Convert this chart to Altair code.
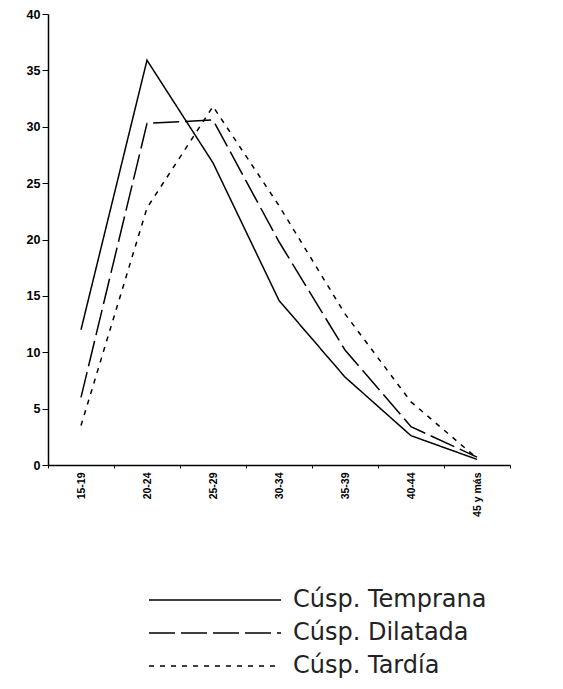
import altair as alt
import pandas as pd

ages = ["15-19", "20-24", "25-29", "30-34", "35-39", "40-44", "45 y más"]
series_names = ["Cúsp. Temprana", "Cúsp. Dilatada", "Cúsp. Tardía"]
temprana = [12.0, 35.9, 26.8, 14.6, 7.8, 2.6, 0.5]
dilatada = [6.0, 30.3, 30.6, 19.8, 10.2, 3.4, 0.7]
tardia = [3.5, 22.8, 31.8, 23.0, 13.4, 5.6, 0.6]
y_ticks = [0, 5, 10, 15, 20, 25, 30, 35, 40]

rows = []
for name, vals in zip(series_names, [temprana, dilatada, tardia]):
    for a, v in zip(ages, vals):
        rows.append({"edad": a, "valor": v, "serie": name})
df = pd.DataFrame(rows)

chart = (
    alt.Chart(df)
    .mark_line(color="black", strokeWidth=1.5)
    .encode(
        x=alt.X(
            "edad:N",
            sort=ages,
            bandPosition=0.5,
            scale=alt.Scale(type="band", paddingInner=0, paddingOuter=0),
            axis=alt.Axis(
                title=None,
                labelAngle=270,
                labelFont="Liberation Sans",
                labelFontSize=10.5,
                labelFontWeight="bold",
                labelColor="black",
                tickBand="extent",
                tickSize=3,
                tickColor="black",
                domainColor="black",
                domainWidth=1.5,
                labelPadding=4,
                grid=False,
            ),
        ),
        y=alt.Y(
            "valor:Q",
            scale=alt.Scale(domain=[0, 40], nice=False),
            axis=alt.Axis(
                title=None,
                values=y_ticks,
                labelFont="Liberation Sans",
                labelFontSize=12.5,
                labelFontWeight="bold",
                labelColor="black",
                tickSize=6,
                tickColor="black",
                domainColor="black",
                domainWidth=1.5,
                labelPadding=2,
                grid=False,
            ),
        ),
        strokeDash=alt.StrokeDash(
            "serie:N",
            scale=alt.Scale(domain=series_names, range=[[1, 0], [26, 6], [5, 6]]),
            legend=alt.Legend(
                title=None,
                orient="none",
                legendX=100,
                legendY=574,
                direction="vertical",
                symbolType="stroke",
                symbolSize=17424,
                symbolStrokeWidth=1.5,
                symbolStrokeColor="black",
                clipHeight=24,
                rowPadding=9,
                padding=0,
                labelOffset=11,
                labelFont="DejaVu Sans",
                labelFontSize=24,
                labelColor="#222222",
                labelLimit=400,
            ),
        ),
    )
    .properties(
        width=462,
        height=451,
        autosize=alt.AutoSizeParams(type="none"),
        padding={"left": 40, "top": 6, "right": 45, "bottom": 224},
    )
    .configure_view(stroke=None)
)

chart.save("out.html", embed_options={"renderer": "svg", "actions": False})
